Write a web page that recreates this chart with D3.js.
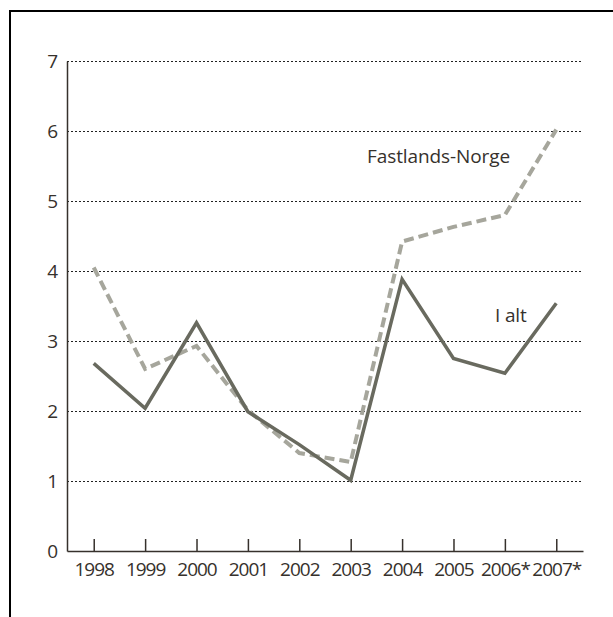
<!DOCTYPE html>
<html>
<head>
<meta charset="utf-8">
<script src="https://cdn.jsdelivr.net/npm/d3@7"></script>
<style>
  body { margin: 0; background: #fff; }
  text { font-family: "Open Sans", sans-serif; fill: #36312c; letter-spacing: -1px; }
  text.series { letter-spacing: -0.1px; }
</style>
</head>
<body>
<div id="vis"></div>
<script>
var margin = {top: 61, right: 30, bottom: 66, left: 67};
var width = 613 - margin.left - margin.right;
var height = 617 - margin.top - margin.bottom;

var years = ['1998', '1999', '2000', '2001', '2002', '2003', '2004', '2005', '2006*', '2007*'];
var iAlt = [2.68, 2.04, 3.26, 1.99, 1.52, 1.01, 3.88, 2.75, 2.54, 3.54];
var fastlands = [4.05, 2.6, 2.93, 2.01, 1.4, 1.27, 4.42, 4.63, 4.8, 6.02];
var yTicks = [0, 1, 2, 3, 4, 5, 6, 7];
var seriesLabels = ['Fastlands-Norge', 'I alt'];

var svg = d3.select('#vis').append('svg')
    .attr('width', 613)
    .attr('height', 617);

// frame (top and left only)
svg.append('path')
   .attr('d', 'M10,617V11H613')
   .attr('fill', 'none')
   .attr('stroke', '#000')
   .attr('stroke-width', 2);

var g = svg.append('g')
    .attr('transform', 'translate(' + margin.left + ',' + margin.top + ')');

var xScale = d3.scalePoint().domain(years).range([0, width]).padding(0.52);
var yScale = d3.scaleLinear().domain([0, 7]).range([height, 0]);

// dotted gridlines
g.append('g')
  .selectAll('line')
  .data(yTicks.filter(function(d) { return d > 0; }))
  .enter()
  .append('line')
  .attr('x1', 0)
  .attr('x2', width)
  .attr('y1', function(d) { return yScale(d) + 0.5; })
  .attr('y2', function(d) { return yScale(d) + 0.5; })
  .attr('stroke', '#222')
  .attr('stroke-width', 1)
  .attr('stroke-dasharray', '2,2');

var yAxis = d3.axisLeft(yScale).tickValues(yTicks).tickFormat(d3.format('d')).tickSize(0).tickPadding(10);
var xAxis = d3.axisBottom(xScale).tickSizeInner(-12).tickSizeOuter(0).tickPadding(12);

var yg = g.append('g').call(yAxis);
var xg = g.append('g')
  .attr('transform', 'translate(0,' + height + ')')
  .call(xAxis);

[yg, xg].forEach(function(a) {
  a.select('.domain').attr('stroke', '#36312c').attr('stroke-width', 1.5);
  a.selectAll('.tick line').attr('stroke', '#36312c').attr('stroke-width', 1.5);
  a.selectAll('text').attr('font-size', 19).attr('font-family', null).attr('fill', '#36312c');
});
yg.selectAll('text').attr('dy', '0.36em');

var line = d3.line()
  .x(function(d, i) { return xScale(years[i]); })
  .y(function(d) { return yScale(d); });

g.append('path')
  .datum(fastlands)
  .attr('d', line)
  .attr('fill', 'none')
  .attr('stroke', '#a6a69c')
  .attr('stroke-width', 4)
  .attr('stroke-dasharray', '10,5');

g.append('path')
  .datum(iAlt)
  .attr('d', line)
  .attr('fill', 'none')
  .attr('stroke', '#696a5f')
  .attr('stroke-width', 3.5)
  .attr('stroke-linejoin', 'miter');

g.append('text')
  .attr('class', 'series')
  .attr('x', xScale('2004') - 35)
  .attr('y', yScale(5.55))
  .attr('font-size', 19)
  .text(seriesLabels[0]);

g.append('text')
  .attr('class', 'series')
  .attr('x', xScale('2006*') - 10)
  .attr('y', yScale(3.27))
  .attr('font-size', 19)
  .text(seriesLabels[1]);
</script>
</body>
</html>
